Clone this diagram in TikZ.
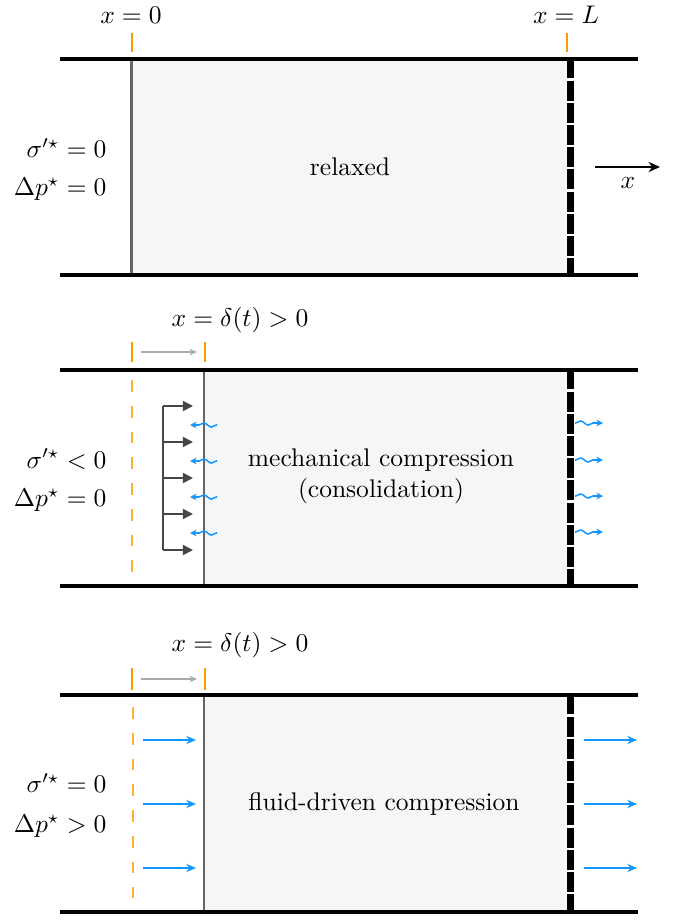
\documentclass[tikz,border=0pt]{standalone}
\usepackage{amsmath}
\usepackage{amssymb}
\usepackage{xcolor}
\definecolor{tickorange}{RGB}{255,153,0}
\definecolor{flowblue}{RGB}{20,150,255}
\definecolor{soilgray}{RGB}{246,246,246}
\definecolor{pistongray}{RGB}{100,100,100}
\definecolor{pushgray}{RGB}{70,70,70}
\usepackage{tikz}
\usetikzlibrary{positioning,arrows.meta,decorations.pathmorphing}
\tikzset{
  wall/.style     ={line width=1.6pt,draw=black},
  soil/.style     ={rectangle,fill=soilgray,inner sep=0pt,minimum height=84.7pt},
  piston/.style   ={line width=0.8pt,draw=pistongray},
  filterbar/.style={line width=3.1pt,draw=black,dash pattern=on 7.8pt off 0.9pt},
  tickmark/.style ={line width=1pt,draw=tickorange},
  oldpos/.style   ={line width=0.8pt,draw=tickorange!80,dash pattern=on 4.6pt off 5.5pt},
  moved/.style    ={-{Stealth[length=3pt,width=2.6pt]},line width=0.45pt,draw=black!33},
  push/.style     ={-{Triangle[length=4pt,width=4pt]},line width=0.6pt,draw=pushgray},
  seep/.style     ={-{Stealth[length=2.6pt,width=2.6pt]},line width=0.6pt,draw=flowblue,
                    decorate,decoration={snake,amplitude=0.8pt,segment length=6pt,
                    pre length=0.3pt,post length=3pt}},
  flow/.style     ={-{Stealth[length=3.8pt,width=3.2pt]},line width=0.6pt,draw=flowblue},
  axis/.style     ={-{Stealth[length=4.5pt,width=4pt]},line width=0.6pt,draw=black},
  lbl/.style      ={font=\normalsize,inner sep=0pt,align=center},
}

\begin{document}
\begin{tikzpicture}[x=0.392pt,y=-0.392pt]
  \useasboundingbox (0,0) rectangle (686,920);

  % ---- panel 1: relaxed -----------------------------------------------
  \node[soil,minimum width=171.7pt] (soilA) at (351,167) {};
  \node[lbl] (txtA) at (350,167) {relaxed};
  \draw[piston] (soilA.north west) -- (soilA.south west);
  \draw[line width=3.1pt,white] (soilA.north east) -- (soilA.south east);
  \draw[filterbar] (soilA.north east) -- (soilA.south east);
  \draw[wall] (60,59) -- (638,59);
  \draw[wall] (60,275) -- (638,275);
  \node[lbl] (xzero) at (131,15) {$x = 0$};
  \node[lbl] (xlen) at (566,15) {$x = L$};
  \draw[tickmark] (132,33) -- (132,52);
  \draw[tickmark] (567,33) -- (567,52);
  \node[lbl,anchor=east] (sigA) at (107,148) {$\sigma'^{\star} = 0$};
  \node[lbl,anchor=east] (dpA) at (107,189) {$\Delta p^{\star} = 0$};
  \coordinate (axA) at (595,167);
  \coordinate (axB) at (660,167);
  \draw[axis] (axA) -- (axB);
  \node[lbl] (xdir) at (628,183) {$x$};

  % ---- panel 2: mechanical compression ----------------------------------
  \node[soil,minimum width=143.1pt] (soilB) at (387.5,478) {};
  \node[lbl] (txtB) at (381,476.5) {mechanical compression\\(consolidation)};
  \draw[piston] (soilB.north west) -- (soilB.south west);
  \draw[line width=3.1pt,white] (soilB.north east) -- (soilB.south east);
  \draw[filterbar] (soilB.north east) -- (soilB.south east);
  \draw[wall] (60,370) -- (638,370);
  \draw[wall] (60,586) -- (638,586);
  \node[lbl] (deltaB) at (240,320) {$x = \delta(t) > 0$};
  \draw[tickmark] (132,342) -- (132,362);
  \draw[tickmark] (205,342) -- (205,362);
  \coordinate (shB0) at (141,352);
  \coordinate (shB1) at (197,352);
  \draw[moved] (shB0) -- (shB1);
  \draw[oldpos] (132,380) -- (132,575);
  \node[lbl,anchor=east] (sigB) at (107,459) {$\sigma'^{\star} < 0$};
  \node[lbl,anchor=east] (dpB) at (107,500) {$\Delta p^{\star} = 0$};
  \coordinate (rodtop) at (163,406);
  \coordinate (rodbot) at (163,550);
  \draw[line width=0.6pt,draw=pushgray] (rodtop) -- (rodbot);
  \foreach \y [count=\i] in {406,442,478,514,550} {
    \coordinate (pu\i) at (163,\y);
    \coordinate (pv\i) at (193,\y);
    \draw[push] (pu\i) -- (pv\i);
  }
  \foreach \y [count=\i] in {425,461,497,533} {
    \coordinate (wl\i) at (217,\y);
    \coordinate (wm\i) at (190,\y);
    \draw[seep] (wl\i) -- (wm\i);
  }
  \foreach \y [count=\i] in {423,460,496,532} {
    \coordinate (wr\i) at (575,\y);
    \coordinate (ws\i) at (603,\y);
    \draw[seep] (wr\i) -- (ws\i);
  }

  % ---- panel 3: fluid-driven compression --------------------------------
  \node[soil,minimum width=143.1pt,minimum height=85.1pt] (soilC) at (387.5,803.5) {};
  \node[lbl] (txtC) at (384,803.5) {fluid-driven compression};
  \draw[piston] (soilC.north west) -- (soilC.south west);
  \draw[line width=3.1pt,white] (soilC.north east) -- (soilC.south east);
  \draw[filterbar] (soilC.north east) -- (soilC.south east);
  \draw[wall] (60,695) -- (638,695);
  \draw[wall] (60,912) -- (638,912);
  \node[lbl] (deltaC) at (240,645) {$x = \delta(t) > 0$};
  \draw[tickmark] (132,668) -- (132,690);
  \draw[tickmark] (205,668) -- (205,690);
  \coordinate (shC0) at (141,679);
  \coordinate (shC1) at (197,679);
  \draw[moved] (shC0) -- (shC1);
  \draw[oldpos] (133,707) -- (133,898);
  \node[lbl,anchor=east] (sigC) at (107,783) {$\sigma'^{\star} = 0$};
  \node[lbl,anchor=east] (dpC) at (107,826) {$\Delta p^{\star} > 0$};
  \foreach \y [count=\i] in {740,804,868} {
    \coordinate (fa\i) at (143,\y);
    \coordinate (fb\i) at (196,\y);
    \draw[flow] (fa\i) -- (fb\i);
    \coordinate (fc\i) at (584,\y);
    \coordinate (fd\i) at (637,\y);
    \draw[flow] (fc\i) -- (fd\i);
  }
\end{tikzpicture}
\end{document}
